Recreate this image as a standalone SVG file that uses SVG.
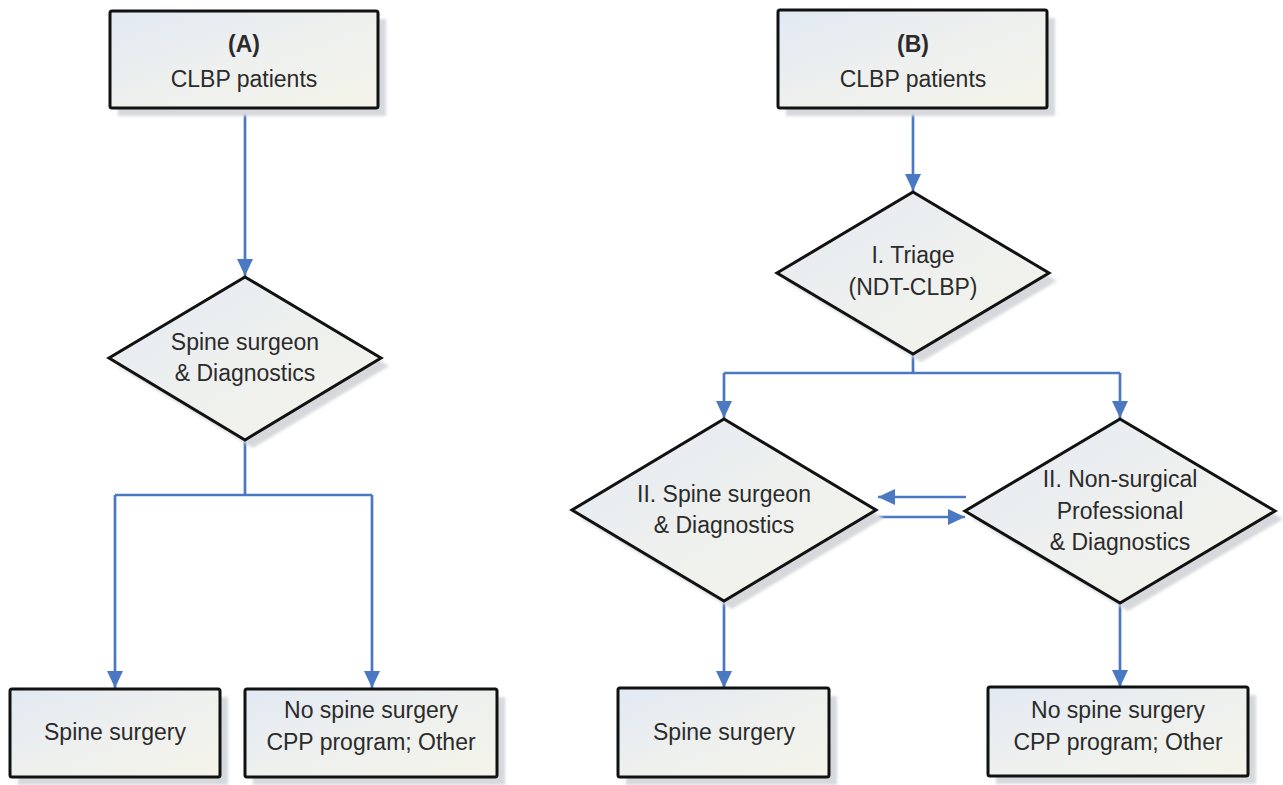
<svg xmlns="http://www.w3.org/2000/svg" width="1283" height="785" viewBox="0 0 1283 785">
<style>
.box{fill:url(#fillg);stroke:#111;stroke-width:3}
.sh{fill:#d6d8dc;filter:url(#blur)}
.t{font-family:"Liberation Sans",Arial,sans-serif;font-size:23px;fill:#2b2b2b;text-anchor:middle}
.b{font-weight:bold}
.c{fill:none;stroke:#4a78c2;stroke-width:2.7}
</style>
<defs>
<linearGradient id="fillg" x1="0" y1="0" x2="1" y2="1">
<stop offset="0" stop-color="#e2e9f3"/>
<stop offset="0.5" stop-color="#eef0ee"/>
<stop offset="1" stop-color="#f4f4ea"/>
</linearGradient>
<filter id="blur" x="-10%" y="-10%" width="120%" height="120%"><feGaussianBlur stdDeviation="1.5"/></filter>
<marker id="ah" markerUnits="userSpaceOnUse" markerWidth="17" markerHeight="16" refX="17" refY="8" orient="auto">
<path d="M0,0 L17,8 L0,16 z" fill="#4a78c2"/>
</marker>
</defs>

<g id="connectors">
<path class="c" d="M245,108 V276" marker-end="url(#ah)"/>
<path class="c" d="M245,440 V495"/>
<path class="c" d="M115,495 H372"/>
<path class="c" d="M115,495 V688" marker-end="url(#ah)"/>
<path class="c" d="M372,495 V688" marker-end="url(#ah)"/>
<path class="c" d="M913,108 V191" marker-end="url(#ah)"/>
<path class="c" d="M913,354 V373"/>
<path class="c" d="M724,373 H1120"/>
<path class="c" d="M724,373 V418" marker-end="url(#ah)"/>
<path class="c" d="M1120,373 V418" marker-end="url(#ah)"/>
<path class="c" d="M966,497 H878" marker-end="url(#ah)"/>
<path class="c" d="M878,517 H965" marker-end="url(#ah)"/>
<path class="c" d="M724,601 V688" marker-end="url(#ah)"/>
<path class="c" d="M1120,603 V687" marker-end="url(#ah)"/>
</g>

<g id="nodeA1">
<rect class="sh" x="118" y="19" width="268" height="97"/>
<rect class="box" x="110" y="11" width="268" height="97" rx="2"/>
<text class="t b" x="244" y="52">(A)</text>
<text class="t" x="244" y="87">CLBP patients</text>
</g>

<g id="nodeA2">
<polygon class="sh" points="253,285 389,366 253,448 117,366"/>
<polygon class="box" points="245,277 381,358 245,440 109,358"/>
<text class="t" x="245" y="350">Spine surgeon</text>
<text class="t" x="245" y="381">&amp; Diagnostics</text>
</g>

<g id="nodeA3">
<rect class="sh" x="18" y="697" width="210" height="88"/>
<rect class="box" x="10" y="689" width="210" height="88" rx="2"/>
<text class="t" x="115" y="740">Spine surgery</text>
</g>

<g id="nodeA4">
<rect class="sh" x="253" y="697" width="252" height="88"/>
<rect class="box" x="245" y="689" width="252" height="88" rx="2"/>
<text class="t" x="371" y="718">No spine surgery</text>
<text class="t" x="371" y="750">CPP program; Other</text>
</g>

<g id="nodeB1">
<rect class="sh" x="786" y="18" width="269" height="98"/>
<rect class="box" x="778" y="10" width="269" height="98" rx="2"/>
<text class="t b" x="913" y="52">(B)</text>
<text class="t" x="913" y="87">CLBP patients</text>
</g>

<g id="nodeB2">
<polygon class="sh" points="921,200 1057,281 921,362 785,281"/>
<polygon class="box" points="913,192 1049,273 913,354 777,273"/>
<text class="t" x="913" y="263">I. Triage</text>
<text class="t" x="913" y="295">(NDT-CLBP)</text>
</g>

<g id="nodeB3">
<polygon class="sh" points="732,427 884,518 732,609 580,518"/>
<polygon class="box" points="724,419 876,510 724,601 572,510"/>
<text class="t" x="724" y="502">II. Spine surgeon</text>
<text class="t" x="724" y="533">&amp; Diagnostics</text>
</g>

<g id="nodeB4">
<polygon class="sh" points="1128,427 1283,519 1128,611 973,519"/>
<polygon class="box" points="1120,419 1275,511 1120,603 965,511"/>
<text class="t" x="1120" y="487">II. Non-surgical</text>
<text class="t" x="1120" y="519">Professional</text>
<text class="t" x="1120" y="550">&amp; Diagnostics</text>
</g>

<g id="nodeB5">
<rect class="sh" x="626" y="696" width="211" height="89"/>
<rect class="box" x="618" y="688" width="211" height="89" rx="2"/>
<text class="t" x="724" y="740">Spine surgery</text>
</g>

<g id="nodeB6">
<rect class="sh" x="996" y="695" width="260" height="89"/>
<rect class="box" x="988" y="687" width="260" height="89" rx="2"/>
<text class="t" x="1118" y="718">No spine surgery</text>
<text class="t" x="1118" y="750">CPP program; Other</text>
</g>
</svg>
